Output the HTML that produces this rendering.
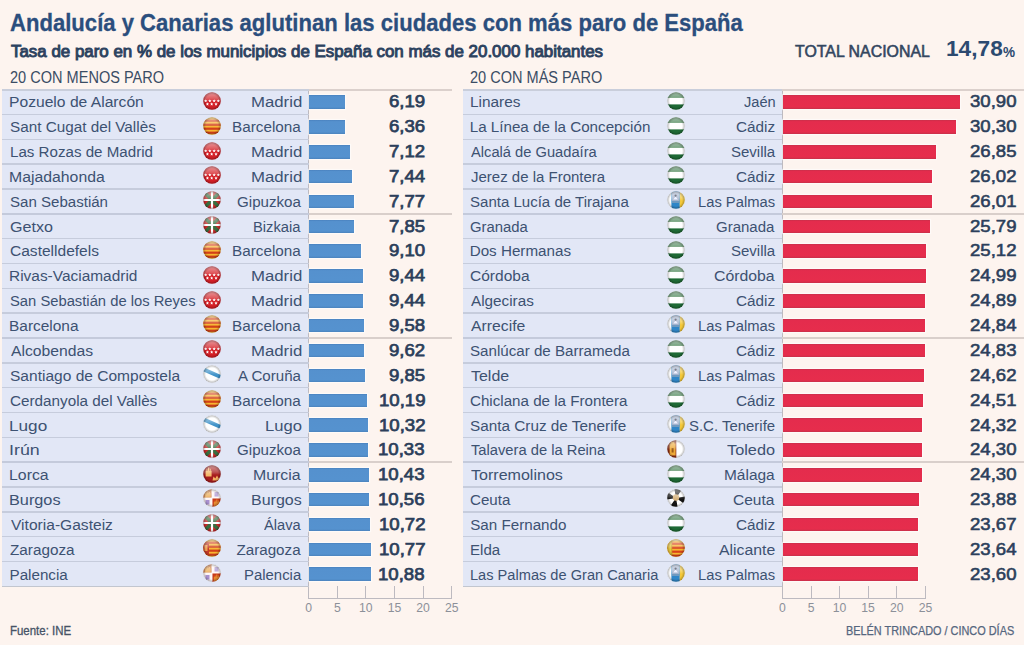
<!DOCTYPE html><html><head><meta charset="utf-8"><style>
*{margin:0;padding:0;box-sizing:border-box}
html,body{width:1024px;height:645px;overflow:hidden;background:#fdf4ef}
body{position:relative;font-family:"Liberation Sans",sans-serif;}
.a{position:absolute;white-space:nowrap;line-height:1}
.ln{position:absolute;height:1px}
</style></head><body>

<div class="a" style="left:10.22px;top:10.60px;font-size:24px;font-weight:bold;color:#2b4e7d;transform:scaleX(0.9204);transform-origin:0 0;-webkit-text-stroke:0.3px #2b4e7d;">Andalucía y Canarias aglutinan las ciudades con más paro de España</div>
<div class="a" style="left:11.35px;top:44.30px;font-size:15.8px;color:#2c425f;transform:scaleX(1.0700);transform-origin:0 0;-webkit-text-stroke:0.9px #2c425f;">Tasa de paro en % de los municipios de España con más de 20.000 habitantes</div>
<div class="a" style="left:795.29px;top:44.00px;font-size:15.6px;color:#33465f;transform:scaleX(1.0196);transform-origin:0 0;-webkit-text-stroke:0.55px #33465f;">TOTAL NACIONAL</div>
<div class="a" style="left:946.24px;top:37.60px;font-size:22.2px;font-weight:bold;color:#2c4a70;transform:scaleX(1.0219);transform-origin:0 0;">14,78</div>
<div class="a" style="left:1003.38px;top:45.60px;font-size:13.8px;font-weight:bold;color:#2c4a70;transform:scaleX(0.9826);transform-origin:0 0;">%</div>
<div class="a" style="left:10.08px;top:70.00px;font-size:15.6px;color:#3a4c64;transform:scaleX(0.9326);transform-origin:0 0;">20 CON MENOS PARO</div>
<div class="a" style="left:470.28px;top:70.00px;font-size:15.6px;color:#3a4c64;transform:scaleX(0.9324);transform-origin:0 0;">20 CON MÁS PARO</div>
<div class="a" style="left:2px;top:89.6px;width:306.60px;height:496.80px;background:#e2e7f6"></div>
<div class="a" style="left:308.20px;top:89.6px;width:1px;height:508.90px;background:#bdbac0"></div>
<div class="a" style="left:309.10px;top:95.42px;width:35.41px;height:13.5px;background:linear-gradient(#4a82bf,#5591ce 12%,#5592cf 85%,#4b83bd);box-shadow:0 0 1px 1px rgba(255,255,255,0.55)"></div>
<div class="a" style="left:9.46px;top:94.00px;font-size:15.2px;color:#3d5272;transform:scaleX(1.0300);transform-origin:0 0;">Pozuelo de Alarcón</div>
<div class="a" style="left:250.56px;top:94.00px;font-size:15.2px;color:#3d5272;transform:scaleX(1.1042);transform-origin:0 0;">Madrid</div>
<div class="a" style="left:388.91px;top:93.00px;font-size:17.2px;color:#2c3f5b;transform:scaleX(1.0800);transform-origin:0 0;-webkit-text-stroke:0.75px #2c3f5b;">6,19</div>
<svg class="a" style="left:202.20px;top:90.92px" width="20.00" height="20.00" viewBox="0 0 20 20"><g clip-path="url(#c)"><rect width='20' height='20' fill='#d41f26'/><polygon fill='#fff' points='3.60,8.15 4.06,9.26 5.26,9.36 4.35,10.14 4.63,11.32 3.60,10.69 2.57,11.32 2.85,10.14 1.94,9.36 3.14,9.26'/><polygon fill='#fff' points='7.85,8.15 8.31,9.26 9.51,9.36 8.60,10.14 8.88,11.32 7.85,10.69 6.82,11.32 7.10,10.14 6.19,9.36 7.39,9.26'/><polygon fill='#fff' points='12.15,8.15 12.61,9.26 13.81,9.36 12.90,10.14 13.18,11.32 12.15,10.69 11.12,11.32 11.40,10.14 10.49,9.36 11.69,9.26'/><polygon fill='#fff' points='16.40,8.15 16.86,9.26 18.06,9.36 17.15,10.14 17.43,11.32 16.40,10.69 15.37,11.32 15.65,10.14 14.74,9.36 15.94,9.26'/><polygon fill='#fff' points='5.40,11.35 5.86,12.46 7.06,12.56 6.15,13.34 6.43,14.52 5.40,13.89 4.37,14.52 4.65,13.34 3.74,12.56 4.94,12.46'/><polygon fill='#fff' points='9.70,11.35 10.16,12.46 11.36,12.56 10.45,13.34 10.73,14.52 9.70,13.89 8.67,14.52 8.95,13.34 8.04,12.56 9.24,12.46'/><polygon fill='#fff' points='14.00,11.35 14.46,12.46 15.66,12.56 14.75,13.34 15.03,14.52 14.00,13.89 12.97,14.52 13.25,13.34 12.34,12.56 13.54,12.46'/><rect width="20" height="20" fill="url(#h)"/><circle cx="10" cy="10" r="8.75" fill="url(#g)"/></g><circle cx="10" cy="10" r="8.75" fill="none" stroke="#000" stroke-opacity="0.12" stroke-width="0.5"/></svg>
<div class="ln" style="left:2px;top:113.69px;width:306.60px;height:1.5px;background:#c6ccdc"></div>
<div class="a" style="left:309.10px;top:120.26px;width:36.38px;height:13.5px;background:linear-gradient(#4a82bf,#5591ce 12%,#5592cf 85%,#4b83bd);box-shadow:0 0 1px 1px rgba(255,255,255,0.55)"></div>
<div class="a" style="left:10.00px;top:119.00px;font-size:15.2px;color:#3d5272;transform:scaleX(1.0059);transform-origin:0 0;">Sant Cugat del Vallès</div>
<div class="a" style="left:231.89px;top:119.00px;font-size:15.2px;color:#3d5272;transform:scaleX(1.0063);transform-origin:0 0;">Barcelona</div>
<div class="a" style="left:388.78px;top:118.00px;font-size:17.2px;color:#2c3f5b;transform:scaleX(1.0800);transform-origin:0 0;-webkit-text-stroke:0.75px #2c3f5b;">6,36</div>
<svg class="a" style="left:202.20px;top:115.76px" width="20.00" height="20.00" viewBox="0 0 20 20"><g clip-path="url(#c)"><rect width='20' height='20' fill='#f7b531'/><rect x='0' y='3.60' width='20' height='2.2' fill='#d2401a'/><rect x='0' y='7.60' width='20' height='2.2' fill='#d2401a'/><rect x='0' y='11.60' width='20' height='2.2' fill='#d2401a'/><rect x='0' y='15.60' width='20' height='2.2' fill='#d2401a'/><rect width="20" height="20" fill="url(#h)"/><circle cx="10" cy="10" r="8.75" fill="url(#g)"/></g><circle cx="10" cy="10" r="8.75" fill="none" stroke="#000" stroke-opacity="0.12" stroke-width="0.5"/></svg>
<div class="ln" style="left:2px;top:138.53px;width:306.60px;height:1.5px;background:#c6ccdc"></div>
<div class="a" style="left:309.10px;top:145.10px;width:40.73px;height:13.5px;background:linear-gradient(#4a82bf,#5591ce 12%,#5592cf 85%,#4b83bd);box-shadow:0 0 1px 1px rgba(255,255,255,0.55)"></div>
<div class="a" style="left:9.51px;top:144.00px;font-size:15.2px;color:#3d5272;transform:scaleX(0.9961);transform-origin:0 0;">Las Rozas de Madrid</div>
<div class="a" style="left:250.56px;top:144.00px;font-size:15.2px;color:#3d5272;transform:scaleX(1.1042);transform-origin:0 0;">Madrid</div>
<div class="a" style="left:388.91px;top:143.00px;font-size:17.2px;color:#2c3f5b;transform:scaleX(1.0800);transform-origin:0 0;-webkit-text-stroke:0.75px #2c3f5b;">7,12</div>
<svg class="a" style="left:202.20px;top:140.60px" width="20.00" height="20.00" viewBox="0 0 20 20"><g clip-path="url(#c)"><rect width='20' height='20' fill='#d41f26'/><polygon fill='#fff' points='3.60,8.15 4.06,9.26 5.26,9.36 4.35,10.14 4.63,11.32 3.60,10.69 2.57,11.32 2.85,10.14 1.94,9.36 3.14,9.26'/><polygon fill='#fff' points='7.85,8.15 8.31,9.26 9.51,9.36 8.60,10.14 8.88,11.32 7.85,10.69 6.82,11.32 7.10,10.14 6.19,9.36 7.39,9.26'/><polygon fill='#fff' points='12.15,8.15 12.61,9.26 13.81,9.36 12.90,10.14 13.18,11.32 12.15,10.69 11.12,11.32 11.40,10.14 10.49,9.36 11.69,9.26'/><polygon fill='#fff' points='16.40,8.15 16.86,9.26 18.06,9.36 17.15,10.14 17.43,11.32 16.40,10.69 15.37,11.32 15.65,10.14 14.74,9.36 15.94,9.26'/><polygon fill='#fff' points='5.40,11.35 5.86,12.46 7.06,12.56 6.15,13.34 6.43,14.52 5.40,13.89 4.37,14.52 4.65,13.34 3.74,12.56 4.94,12.46'/><polygon fill='#fff' points='9.70,11.35 10.16,12.46 11.36,12.56 10.45,13.34 10.73,14.52 9.70,13.89 8.67,14.52 8.95,13.34 8.04,12.56 9.24,12.46'/><polygon fill='#fff' points='14.00,11.35 14.46,12.46 15.66,12.56 14.75,13.34 15.03,14.52 14.00,13.89 12.97,14.52 13.25,13.34 12.34,12.56 13.54,12.46'/><rect width="20" height="20" fill="url(#h)"/><circle cx="10" cy="10" r="8.75" fill="url(#g)"/></g><circle cx="10" cy="10" r="8.75" fill="none" stroke="#000" stroke-opacity="0.12" stroke-width="0.5"/></svg>
<div class="ln" style="left:2px;top:163.37px;width:306.60px;height:1.5px;background:#c6ccdc"></div>
<div class="a" style="left:309.10px;top:169.94px;width:42.56px;height:13.5px;background:linear-gradient(#4a82bf,#5591ce 12%,#5592cf 85%,#4b83bd);box-shadow:0 0 1px 1px rgba(255,255,255,0.55)"></div>
<div class="a" style="left:9.45px;top:169.00px;font-size:15.2px;color:#3d5272;transform:scaleX(1.0403);transform-origin:0 0;">Majadahonda</div>
<div class="a" style="left:250.56px;top:169.00px;font-size:15.2px;color:#3d5272;transform:scaleX(1.1042);transform-origin:0 0;">Madrid</div>
<div class="a" style="left:388.51px;top:168.00px;font-size:17.2px;color:#2c3f5b;transform:scaleX(1.0800);transform-origin:0 0;-webkit-text-stroke:0.75px #2c3f5b;">7,44</div>
<svg class="a" style="left:202.20px;top:165.44px" width="20.00" height="20.00" viewBox="0 0 20 20"><g clip-path="url(#c)"><rect width='20' height='20' fill='#d41f26'/><polygon fill='#fff' points='3.60,8.15 4.06,9.26 5.26,9.36 4.35,10.14 4.63,11.32 3.60,10.69 2.57,11.32 2.85,10.14 1.94,9.36 3.14,9.26'/><polygon fill='#fff' points='7.85,8.15 8.31,9.26 9.51,9.36 8.60,10.14 8.88,11.32 7.85,10.69 6.82,11.32 7.10,10.14 6.19,9.36 7.39,9.26'/><polygon fill='#fff' points='12.15,8.15 12.61,9.26 13.81,9.36 12.90,10.14 13.18,11.32 12.15,10.69 11.12,11.32 11.40,10.14 10.49,9.36 11.69,9.26'/><polygon fill='#fff' points='16.40,8.15 16.86,9.26 18.06,9.36 17.15,10.14 17.43,11.32 16.40,10.69 15.37,11.32 15.65,10.14 14.74,9.36 15.94,9.26'/><polygon fill='#fff' points='5.40,11.35 5.86,12.46 7.06,12.56 6.15,13.34 6.43,14.52 5.40,13.89 4.37,14.52 4.65,13.34 3.74,12.56 4.94,12.46'/><polygon fill='#fff' points='9.70,11.35 10.16,12.46 11.36,12.56 10.45,13.34 10.73,14.52 9.70,13.89 8.67,14.52 8.95,13.34 8.04,12.56 9.24,12.46'/><polygon fill='#fff' points='14.00,11.35 14.46,12.46 15.66,12.56 14.75,13.34 15.03,14.52 14.00,13.89 12.97,14.52 13.25,13.34 12.34,12.56 13.54,12.46'/><rect width="20" height="20" fill="url(#h)"/><circle cx="10" cy="10" r="8.75" fill="url(#g)"/></g><circle cx="10" cy="10" r="8.75" fill="none" stroke="#000" stroke-opacity="0.12" stroke-width="0.5"/></svg>
<div class="ln" style="left:2px;top:188.21px;width:306.60px;height:1.5px;background:#c6ccdc"></div>
<div class="a" style="left:309.10px;top:194.78px;width:44.44px;height:13.5px;background:linear-gradient(#4a82bf,#5591ce 12%,#5592cf 85%,#4b83bd);box-shadow:0 0 1px 1px rgba(255,255,255,0.55)"></div>
<div class="a" style="left:10.01px;top:194.00px;font-size:15.2px;color:#3d5272;transform:scaleX(0.9920);transform-origin:0 0;">San Sebastián</div>
<div class="a" style="left:236.80px;top:194.00px;font-size:15.2px;color:#3d5272;transform:scaleX(0.9965);transform-origin:0 0;">Gipuzkoa</div>
<div class="a" style="left:388.91px;top:193.00px;font-size:17.2px;color:#2c3f5b;transform:scaleX(1.0800);transform-origin:0 0;-webkit-text-stroke:0.75px #2c3f5b;">7,77</div>
<svg class="a" style="left:202.20px;top:190.28px" width="20.00" height="20.00" viewBox="0 0 20 20"><g clip-path="url(#c)"><rect width='20' height='20' fill='#c62a2a'/><path d='M0 0L20 20M20 0L0 20' stroke='#3a6e40' stroke-width='3.6'/><path d='M10 0V20M0 10H20' stroke='#fff' stroke-width='2.2'/><rect width="20" height="20" fill="url(#h)"/><circle cx="10" cy="10" r="8.75" fill="url(#g)"/></g><circle cx="10" cy="10" r="8.75" fill="none" stroke="#000" stroke-opacity="0.12" stroke-width="0.5"/></svg>
<div class="ln" style="left:2px;top:213.05px;width:449.50px;height:1.5px;background:#d9cfcb"></div>
<div class="ln" style="left:2px;top:213.05px;width:306.60px;height:1.5px;background:#c4cadb"></div>
<div class="a" style="left:309.10px;top:219.62px;width:44.90px;height:13.5px;background:linear-gradient(#4a82bf,#5591ce 12%,#5592cf 85%,#4b83bd);box-shadow:0 0 1px 1px rgba(255,255,255,0.55)"></div>
<div class="a" style="left:9.95px;top:219.00px;font-size:15.2px;color:#3d5272;transform:scaleX(1.0599);transform-origin:0 0;">Getxo</div>
<div class="a" style="left:253.24px;top:219.00px;font-size:15.2px;color:#3d5272;transform:scaleX(0.9713);transform-origin:0 0;">Bizkaia</div>
<div class="a" style="left:388.78px;top:218.00px;font-size:17.2px;color:#2c3f5b;transform:scaleX(1.0800);transform-origin:0 0;-webkit-text-stroke:0.75px #2c3f5b;">7,85</div>
<svg class="a" style="left:202.20px;top:215.12px" width="20.00" height="20.00" viewBox="0 0 20 20"><g clip-path="url(#c)"><rect width='20' height='20' fill='#c62a2a'/><path d='M0 0L20 20M20 0L0 20' stroke='#3a6e40' stroke-width='3.6'/><path d='M10 0V20M0 10H20' stroke='#fff' stroke-width='2.2'/><rect width="20" height="20" fill="url(#h)"/><circle cx="10" cy="10" r="8.75" fill="url(#g)"/></g><circle cx="10" cy="10" r="8.75" fill="none" stroke="#000" stroke-opacity="0.12" stroke-width="0.5"/></svg>
<div class="ln" style="left:2px;top:237.89px;width:306.60px;height:1.5px;background:#c6ccdc"></div>
<div class="a" style="left:309.10px;top:244.46px;width:52.05px;height:13.5px;background:linear-gradient(#4a82bf,#5591ce 12%,#5592cf 85%,#4b83bd);box-shadow:0 0 1px 1px rgba(255,255,255,0.55)"></div>
<div class="a" style="left:9.98px;top:243.00px;font-size:15.2px;color:#3d5272;transform:scaleX(1.0233);transform-origin:0 0;">Castelldefels</div>
<div class="a" style="left:231.89px;top:243.00px;font-size:15.2px;color:#3d5272;transform:scaleX(1.0063);transform-origin:0 0;">Barcelona</div>
<div class="a" style="left:388.78px;top:242.00px;font-size:17.2px;color:#2c3f5b;transform:scaleX(1.0800);transform-origin:0 0;-webkit-text-stroke:0.75px #2c3f5b;">9,10</div>
<svg class="a" style="left:202.20px;top:239.96px" width="20.00" height="20.00" viewBox="0 0 20 20"><g clip-path="url(#c)"><rect width='20' height='20' fill='#f7b531'/><rect x='0' y='3.60' width='20' height='2.2' fill='#d2401a'/><rect x='0' y='7.60' width='20' height='2.2' fill='#d2401a'/><rect x='0' y='11.60' width='20' height='2.2' fill='#d2401a'/><rect x='0' y='15.60' width='20' height='2.2' fill='#d2401a'/><rect width="20" height="20" fill="url(#h)"/><circle cx="10" cy="10" r="8.75" fill="url(#g)"/></g><circle cx="10" cy="10" r="8.75" fill="none" stroke="#000" stroke-opacity="0.12" stroke-width="0.5"/></svg>
<div class="ln" style="left:2px;top:262.73px;width:306.60px;height:1.5px;background:#c6ccdc"></div>
<div class="a" style="left:309.10px;top:269.30px;width:54.00px;height:13.5px;background:linear-gradient(#4a82bf,#5591ce 12%,#5592cf 85%,#4b83bd);box-shadow:0 0 1px 1px rgba(255,255,255,0.55)"></div>
<div class="a" style="left:9.48px;top:268.00px;font-size:15.2px;color:#3d5272;transform:scaleX(1.0169);transform-origin:0 0;">Rivas-Vaciamadrid</div>
<div class="a" style="left:250.56px;top:268.00px;font-size:15.2px;color:#3d5272;transform:scaleX(1.1042);transform-origin:0 0;">Madrid</div>
<div class="a" style="left:388.51px;top:267.00px;font-size:17.2px;color:#2c3f5b;transform:scaleX(1.0800);transform-origin:0 0;-webkit-text-stroke:0.75px #2c3f5b;">9,44</div>
<svg class="a" style="left:202.20px;top:264.80px" width="20.00" height="20.00" viewBox="0 0 20 20"><g clip-path="url(#c)"><rect width='20' height='20' fill='#d41f26'/><polygon fill='#fff' points='3.60,8.15 4.06,9.26 5.26,9.36 4.35,10.14 4.63,11.32 3.60,10.69 2.57,11.32 2.85,10.14 1.94,9.36 3.14,9.26'/><polygon fill='#fff' points='7.85,8.15 8.31,9.26 9.51,9.36 8.60,10.14 8.88,11.32 7.85,10.69 6.82,11.32 7.10,10.14 6.19,9.36 7.39,9.26'/><polygon fill='#fff' points='12.15,8.15 12.61,9.26 13.81,9.36 12.90,10.14 13.18,11.32 12.15,10.69 11.12,11.32 11.40,10.14 10.49,9.36 11.69,9.26'/><polygon fill='#fff' points='16.40,8.15 16.86,9.26 18.06,9.36 17.15,10.14 17.43,11.32 16.40,10.69 15.37,11.32 15.65,10.14 14.74,9.36 15.94,9.26'/><polygon fill='#fff' points='5.40,11.35 5.86,12.46 7.06,12.56 6.15,13.34 6.43,14.52 5.40,13.89 4.37,14.52 4.65,13.34 3.74,12.56 4.94,12.46'/><polygon fill='#fff' points='9.70,11.35 10.16,12.46 11.36,12.56 10.45,13.34 10.73,14.52 9.70,13.89 8.67,14.52 8.95,13.34 8.04,12.56 9.24,12.46'/><polygon fill='#fff' points='14.00,11.35 14.46,12.46 15.66,12.56 14.75,13.34 15.03,14.52 14.00,13.89 12.97,14.52 13.25,13.34 12.34,12.56 13.54,12.46'/><rect width="20" height="20" fill="url(#h)"/><circle cx="10" cy="10" r="8.75" fill="url(#g)"/></g><circle cx="10" cy="10" r="8.75" fill="none" stroke="#000" stroke-opacity="0.12" stroke-width="0.5"/></svg>
<div class="ln" style="left:2px;top:287.57px;width:306.60px;height:1.5px;background:#c6ccdc"></div>
<div class="a" style="left:309.10px;top:294.14px;width:54.00px;height:13.5px;background:linear-gradient(#4a82bf,#5591ce 12%,#5592cf 85%,#4b83bd);box-shadow:0 0 1px 1px rgba(255,255,255,0.55)"></div>
<div class="a" style="left:10.02px;top:293.00px;font-size:15.2px;color:#3d5272;transform:scaleX(0.9724);transform-origin:0 0;">San Sebastián de los Reyes</div>
<div class="a" style="left:250.56px;top:293.00px;font-size:15.2px;color:#3d5272;transform:scaleX(1.1042);transform-origin:0 0;">Madrid</div>
<div class="a" style="left:388.51px;top:292.00px;font-size:17.2px;color:#2c3f5b;transform:scaleX(1.0800);transform-origin:0 0;-webkit-text-stroke:0.75px #2c3f5b;">9,44</div>
<svg class="a" style="left:202.20px;top:289.64px" width="20.00" height="20.00" viewBox="0 0 20 20"><g clip-path="url(#c)"><rect width='20' height='20' fill='#d41f26'/><polygon fill='#fff' points='3.60,8.15 4.06,9.26 5.26,9.36 4.35,10.14 4.63,11.32 3.60,10.69 2.57,11.32 2.85,10.14 1.94,9.36 3.14,9.26'/><polygon fill='#fff' points='7.85,8.15 8.31,9.26 9.51,9.36 8.60,10.14 8.88,11.32 7.85,10.69 6.82,11.32 7.10,10.14 6.19,9.36 7.39,9.26'/><polygon fill='#fff' points='12.15,8.15 12.61,9.26 13.81,9.36 12.90,10.14 13.18,11.32 12.15,10.69 11.12,11.32 11.40,10.14 10.49,9.36 11.69,9.26'/><polygon fill='#fff' points='16.40,8.15 16.86,9.26 18.06,9.36 17.15,10.14 17.43,11.32 16.40,10.69 15.37,11.32 15.65,10.14 14.74,9.36 15.94,9.26'/><polygon fill='#fff' points='5.40,11.35 5.86,12.46 7.06,12.56 6.15,13.34 6.43,14.52 5.40,13.89 4.37,14.52 4.65,13.34 3.74,12.56 4.94,12.46'/><polygon fill='#fff' points='9.70,11.35 10.16,12.46 11.36,12.56 10.45,13.34 10.73,14.52 9.70,13.89 8.67,14.52 8.95,13.34 8.04,12.56 9.24,12.46'/><polygon fill='#fff' points='14.00,11.35 14.46,12.46 15.66,12.56 14.75,13.34 15.03,14.52 14.00,13.89 12.97,14.52 13.25,13.34 12.34,12.56 13.54,12.46'/><rect width="20" height="20" fill="url(#h)"/><circle cx="10" cy="10" r="8.75" fill="url(#g)"/></g><circle cx="10" cy="10" r="8.75" fill="none" stroke="#000" stroke-opacity="0.12" stroke-width="0.5"/></svg>
<div class="ln" style="left:2px;top:312.41px;width:306.60px;height:1.5px;background:#c6ccdc"></div>
<div class="a" style="left:309.10px;top:318.98px;width:54.80px;height:13.5px;background:linear-gradient(#4a82bf,#5591ce 12%,#5592cf 85%,#4b83bd);box-shadow:0 0 1px 1px rgba(255,255,255,0.55)"></div>
<div class="a" style="left:9.48px;top:318.00px;font-size:15.2px;color:#3d5272;transform:scaleX(1.0167);transform-origin:0 0;">Barcelona</div>
<div class="a" style="left:231.89px;top:318.00px;font-size:15.2px;color:#3d5272;transform:scaleX(1.0063);transform-origin:0 0;">Barcelona</div>
<div class="a" style="left:388.78px;top:317.00px;font-size:17.2px;color:#2c3f5b;transform:scaleX(1.0800);transform-origin:0 0;-webkit-text-stroke:0.75px #2c3f5b;">9,58</div>
<svg class="a" style="left:202.20px;top:314.48px" width="20.00" height="20.00" viewBox="0 0 20 20"><g clip-path="url(#c)"><rect width='20' height='20' fill='#f7b531'/><rect x='0' y='3.60' width='20' height='2.2' fill='#d2401a'/><rect x='0' y='7.60' width='20' height='2.2' fill='#d2401a'/><rect x='0' y='11.60' width='20' height='2.2' fill='#d2401a'/><rect x='0' y='15.60' width='20' height='2.2' fill='#d2401a'/><rect width="20" height="20" fill="url(#h)"/><circle cx="10" cy="10" r="8.75" fill="url(#g)"/></g><circle cx="10" cy="10" r="8.75" fill="none" stroke="#000" stroke-opacity="0.12" stroke-width="0.5"/></svg>
<div class="ln" style="left:2px;top:337.25px;width:449.50px;height:1.5px;background:#d9cfcb"></div>
<div class="ln" style="left:2px;top:337.25px;width:306.60px;height:1.5px;background:#c4cadb"></div>
<div class="a" style="left:309.10px;top:343.82px;width:55.03px;height:13.5px;background:linear-gradient(#4a82bf,#5591ce 12%,#5592cf 85%,#4b83bd);box-shadow:0 0 1px 1px rgba(255,255,255,0.55)"></div>
<div class="a" style="left:10.75px;top:343.00px;font-size:15.2px;color:#3d5272;transform:scaleX(1.0351);transform-origin:0 0;">Alcobendas</div>
<div class="a" style="left:250.56px;top:343.00px;font-size:15.2px;color:#3d5272;transform:scaleX(1.1042);transform-origin:0 0;">Madrid</div>
<div class="a" style="left:388.91px;top:342.00px;font-size:17.2px;color:#2c3f5b;transform:scaleX(1.0800);transform-origin:0 0;-webkit-text-stroke:0.75px #2c3f5b;">9,62</div>
<svg class="a" style="left:202.20px;top:339.32px" width="20.00" height="20.00" viewBox="0 0 20 20"><g clip-path="url(#c)"><rect width='20' height='20' fill='#d41f26'/><polygon fill='#fff' points='3.60,8.15 4.06,9.26 5.26,9.36 4.35,10.14 4.63,11.32 3.60,10.69 2.57,11.32 2.85,10.14 1.94,9.36 3.14,9.26'/><polygon fill='#fff' points='7.85,8.15 8.31,9.26 9.51,9.36 8.60,10.14 8.88,11.32 7.85,10.69 6.82,11.32 7.10,10.14 6.19,9.36 7.39,9.26'/><polygon fill='#fff' points='12.15,8.15 12.61,9.26 13.81,9.36 12.90,10.14 13.18,11.32 12.15,10.69 11.12,11.32 11.40,10.14 10.49,9.36 11.69,9.26'/><polygon fill='#fff' points='16.40,8.15 16.86,9.26 18.06,9.36 17.15,10.14 17.43,11.32 16.40,10.69 15.37,11.32 15.65,10.14 14.74,9.36 15.94,9.26'/><polygon fill='#fff' points='5.40,11.35 5.86,12.46 7.06,12.56 6.15,13.34 6.43,14.52 5.40,13.89 4.37,14.52 4.65,13.34 3.74,12.56 4.94,12.46'/><polygon fill='#fff' points='9.70,11.35 10.16,12.46 11.36,12.56 10.45,13.34 10.73,14.52 9.70,13.89 8.67,14.52 8.95,13.34 8.04,12.56 9.24,12.46'/><polygon fill='#fff' points='14.00,11.35 14.46,12.46 15.66,12.56 14.75,13.34 15.03,14.52 14.00,13.89 12.97,14.52 13.25,13.34 12.34,12.56 13.54,12.46'/><rect width="20" height="20" fill="url(#h)"/><circle cx="10" cy="10" r="8.75" fill="url(#g)"/></g><circle cx="10" cy="10" r="8.75" fill="none" stroke="#000" stroke-opacity="0.12" stroke-width="0.5"/></svg>
<div class="ln" style="left:2px;top:362.09px;width:306.60px;height:1.5px;background:#c6ccdc"></div>
<div class="a" style="left:309.10px;top:368.66px;width:56.34px;height:13.5px;background:linear-gradient(#4a82bf,#5591ce 12%,#5592cf 85%,#4b83bd);box-shadow:0 0 1px 1px rgba(255,255,255,0.55)"></div>
<div class="a" style="left:9.98px;top:368.00px;font-size:15.2px;color:#3d5272;transform:scaleX(1.0226);transform-origin:0 0;">Santiago de Compostela</div>
<div class="a" style="left:237.75px;top:368.00px;font-size:15.2px;color:#3d5272;transform:scaleX(0.9953);transform-origin:0 0;">A Coruña</div>
<div class="a" style="left:388.78px;top:367.00px;font-size:17.2px;color:#2c3f5b;transform:scaleX(1.0800);transform-origin:0 0;-webkit-text-stroke:0.75px #2c3f5b;">9,85</div>
<svg class="a" style="left:202.20px;top:364.16px" width="20.00" height="20.00" viewBox="0 0 20 20"><g clip-path="url(#c)"><rect width='20' height='20' fill='#fff'/><path d='M-1 4.2L21 14' stroke='#3f92c8' stroke-width='3.8'/><rect width="20" height="20" fill="url(#h)"/><circle cx="10" cy="10" r="8.75" fill="url(#g)"/></g><circle cx="10" cy="10" r="8.75" fill="none" stroke="#000" stroke-opacity="0.12" stroke-width="0.5"/></svg>
<div class="ln" style="left:2px;top:386.93px;width:306.60px;height:1.5px;background:#c6ccdc"></div>
<div class="a" style="left:309.10px;top:393.50px;width:58.29px;height:13.5px;background:linear-gradient(#4a82bf,#5591ce 12%,#5592cf 85%,#4b83bd);box-shadow:0 0 1px 1px rgba(255,255,255,0.55)"></div>
<div class="a" style="left:10.00px;top:393.00px;font-size:15.2px;color:#3d5272;transform:scaleX(1.0043);transform-origin:0 0;">Cerdanyola del Vallès</div>
<div class="a" style="left:231.89px;top:393.00px;font-size:15.2px;color:#3d5272;transform:scaleX(1.0063);transform-origin:0 0;">Barcelona</div>
<div class="a" style="left:378.52px;top:392.00px;font-size:17.2px;color:#2c3f5b;transform:scaleX(1.0800);transform-origin:0 0;-webkit-text-stroke:0.75px #2c3f5b;">10,19</div>
<svg class="a" style="left:202.20px;top:389.00px" width="20.00" height="20.00" viewBox="0 0 20 20"><g clip-path="url(#c)"><rect width='20' height='20' fill='#f7b531'/><rect x='0' y='3.60' width='20' height='2.2' fill='#d2401a'/><rect x='0' y='7.60' width='20' height='2.2' fill='#d2401a'/><rect x='0' y='11.60' width='20' height='2.2' fill='#d2401a'/><rect x='0' y='15.60' width='20' height='2.2' fill='#d2401a'/><rect width="20" height="20" fill="url(#h)"/><circle cx="10" cy="10" r="8.75" fill="url(#g)"/></g><circle cx="10" cy="10" r="8.75" fill="none" stroke="#000" stroke-opacity="0.12" stroke-width="0.5"/></svg>
<div class="ln" style="left:2px;top:411.77px;width:306.60px;height:1.5px;background:#c6ccdc"></div>
<div class="a" style="left:309.10px;top:418.34px;width:59.03px;height:13.5px;background:linear-gradient(#4a82bf,#5591ce 12%,#5592cf 85%,#4b83bd);box-shadow:0 0 1px 1px rgba(255,255,255,0.55)"></div>
<div class="a" style="left:9.33px;top:418.00px;font-size:15.2px;color:#3d5272;transform:scaleX(1.1313);transform-origin:0 0;">Lugo</div>
<div class="a" style="left:264.58px;top:418.00px;font-size:15.2px;color:#3d5272;transform:scaleX(1.0938);transform-origin:0 0;">Lugo</div>
<div class="a" style="left:378.52px;top:417.00px;font-size:17.2px;color:#2c3f5b;transform:scaleX(1.0800);transform-origin:0 0;-webkit-text-stroke:0.75px #2c3f5b;">10,32</div>
<svg class="a" style="left:202.20px;top:413.84px" width="20.00" height="20.00" viewBox="0 0 20 20"><g clip-path="url(#c)"><rect width='20' height='20' fill='#fff'/><path d='M-1 4.2L21 14' stroke='#3f92c8' stroke-width='3.8'/><rect width="20" height="20" fill="url(#h)"/><circle cx="10" cy="10" r="8.75" fill="url(#g)"/></g><circle cx="10" cy="10" r="8.75" fill="none" stroke="#000" stroke-opacity="0.12" stroke-width="0.5"/></svg>
<div class="ln" style="left:2px;top:436.61px;width:306.60px;height:1.5px;background:#c6ccdc"></div>
<div class="a" style="left:309.10px;top:443.18px;width:59.09px;height:13.5px;background:linear-gradient(#4a82bf,#5591ce 12%,#5592cf 85%,#4b83bd);box-shadow:0 0 1px 1px rgba(255,255,255,0.55)"></div>
<div class="a" style="left:9.13px;top:442.00px;font-size:15.2px;color:#3d5272;transform:scaleX(1.1728);transform-origin:0 0;">Irún</div>
<div class="a" style="left:236.80px;top:442.00px;font-size:15.2px;color:#3d5272;transform:scaleX(0.9965);transform-origin:0 0;">Gipuzkoa</div>
<div class="a" style="left:378.38px;top:441.00px;font-size:17.2px;color:#2c3f5b;transform:scaleX(1.0800);transform-origin:0 0;-webkit-text-stroke:0.75px #2c3f5b;">10,33</div>
<svg class="a" style="left:202.20px;top:438.68px" width="20.00" height="20.00" viewBox="0 0 20 20"><g clip-path="url(#c)"><rect width='20' height='20' fill='#c62a2a'/><path d='M0 0L20 20M20 0L0 20' stroke='#3a6e40' stroke-width='3.6'/><path d='M10 0V20M0 10H20' stroke='#fff' stroke-width='2.2'/><rect width="20" height="20" fill="url(#h)"/><circle cx="10" cy="10" r="8.75" fill="url(#g)"/></g><circle cx="10" cy="10" r="8.75" fill="none" stroke="#000" stroke-opacity="0.12" stroke-width="0.5"/></svg>
<div class="ln" style="left:2px;top:461.45px;width:449.50px;height:1.5px;background:#d9cfcb"></div>
<div class="ln" style="left:2px;top:461.45px;width:306.60px;height:1.5px;background:#c4cadb"></div>
<div class="a" style="left:309.10px;top:468.02px;width:59.66px;height:13.5px;background:linear-gradient(#4a82bf,#5591ce 12%,#5592cf 85%,#4b83bd);box-shadow:0 0 1px 1px rgba(255,255,255,0.55)"></div>
<div class="a" style="left:9.44px;top:467.00px;font-size:15.2px;color:#3d5272;transform:scaleX(1.0441);transform-origin:0 0;">Lorca</div>
<div class="a" style="left:253.14px;top:467.00px;font-size:15.2px;color:#3d5272;transform:scaleX(1.0449);transform-origin:0 0;">Murcia</div>
<div class="a" style="left:378.38px;top:466.00px;font-size:17.2px;color:#2c3f5b;transform:scaleX(1.0800);transform-origin:0 0;-webkit-text-stroke:0.75px #2c3f5b;">10,43</div>
<svg class="a" style="left:202.20px;top:463.52px" width="20.00" height="20.00" viewBox="0 0 20 20"><g clip-path="url(#c)"><rect width='20' height='20' fill='#a81d1d'/><path fill='#f4b868' d='M3.6 12.5V6.65H4.5V4.85H5.4V6.65H6.0V3.5H7.199999999999999V6.65H7.799999999999999V4.85H8.7V6.65H9.6V12.5Z'/><path fill='#f4b060' d='M10.5 16.5L11.5 12.5L13.3 14.5L15 11.5L16.7 14.5L18.5 12.5L19.5 16.5Z'/><rect width="20" height="20" fill="url(#h)"/><circle cx="10" cy="10" r="8.75" fill="url(#g)"/></g><circle cx="10" cy="10" r="8.75" fill="none" stroke="#000" stroke-opacity="0.12" stroke-width="0.5"/></svg>
<div class="ln" style="left:2px;top:486.29px;width:306.60px;height:1.5px;background:#c6ccdc"></div>
<div class="a" style="left:309.10px;top:492.86px;width:60.40px;height:13.5px;background:linear-gradient(#4a82bf,#5591ce 12%,#5592cf 85%,#4b83bd);box-shadow:0 0 1px 1px rgba(255,255,255,0.55)"></div>
<div class="a" style="left:9.41px;top:492.00px;font-size:15.2px;color:#3d5272;transform:scaleX(1.0710);transform-origin:0 0;">Burgos</div>
<div class="a" style="left:250.63px;top:492.00px;font-size:15.2px;color:#3d5272;transform:scaleX(1.0538);transform-origin:0 0;">Burgos</div>
<div class="a" style="left:378.38px;top:491.00px;font-size:17.2px;color:#2c3f5b;transform:scaleX(1.0800);transform-origin:0 0;-webkit-text-stroke:0.75px #2c3f5b;">10,56</div>
<svg class="a" style="left:202.20px;top:488.36px" width="20.00" height="20.00" viewBox="0 0 20 20"><g clip-path="url(#c)"><rect width='20' height='20' fill='#fdf3f3'/><rect x='0' y='0' width='10' height='10' fill='#c9682e'/><rect x='10' y='10' width='10' height='10' fill='#c83a1a'/><path fill='#eaa850' d='M2.8 9.5V5.275H3.6999999999999997V3.975H4.6V5.275H5.2V3H6.3999999999999995V5.275H6.999999999999999V3.975H7.8999999999999995V5.275H8.8V9.5Z'/><path fill='#e88a30' d='M11.8 18.0V13.775H12.700000000000001V12.475H13.600000000000001V13.775H14.200000000000001V11.5H15.4V13.775H16.0V12.475H16.9V13.775H17.8V18.0Z'/><rect x='12.5' y='4' width='4' height='4.5' fill='#a890d0'/><rect x='3.5' y='12' width='4' height='4.5' fill='#a890d0'/><path d='M10 0V20M0 10H20' stroke='#fff' stroke-width='0.9'/><rect width="20" height="20" fill="url(#h)"/><circle cx="10" cy="10" r="8.75" fill="url(#g)"/></g><circle cx="10" cy="10" r="8.75" fill="none" stroke="#000" stroke-opacity="0.12" stroke-width="0.5"/></svg>
<div class="ln" style="left:2px;top:511.13px;width:306.60px;height:1.5px;background:#c6ccdc"></div>
<div class="a" style="left:309.10px;top:517.70px;width:61.32px;height:13.5px;background:linear-gradient(#4a82bf,#5591ce 12%,#5592cf 85%,#4b83bd);box-shadow:0 0 1px 1px rgba(255,255,255,0.55)"></div>
<div class="a" style="left:10.62px;top:517.00px;font-size:15.2px;color:#3d5272;transform:scaleX(1.0258);transform-origin:0 0;">Vitoria-Gasteiz</div>
<div class="a" style="left:264.15px;top:517.00px;font-size:15.2px;color:#3d5272;transform:scaleX(0.9652);transform-origin:0 0;">Álava</div>
<div class="a" style="left:378.52px;top:516.00px;font-size:17.2px;color:#2c3f5b;transform:scaleX(1.0800);transform-origin:0 0;-webkit-text-stroke:0.75px #2c3f5b;">10,72</div>
<svg class="a" style="left:202.20px;top:513.20px" width="20.00" height="20.00" viewBox="0 0 20 20"><g clip-path="url(#c)"><rect width='20' height='20' fill='#c62a2a'/><path d='M0 0L20 20M20 0L0 20' stroke='#3a6e40' stroke-width='3.6'/><path d='M10 0V20M0 10H20' stroke='#fff' stroke-width='2.2'/><rect width="20" height="20" fill="url(#h)"/><circle cx="10" cy="10" r="8.75" fill="url(#g)"/></g><circle cx="10" cy="10" r="8.75" fill="none" stroke="#000" stroke-opacity="0.12" stroke-width="0.5"/></svg>
<div class="ln" style="left:2px;top:535.97px;width:306.60px;height:1.5px;background:#c6ccdc"></div>
<div class="a" style="left:309.10px;top:542.54px;width:61.60px;height:13.5px;background:linear-gradient(#4a82bf,#5591ce 12%,#5592cf 85%,#4b83bd);box-shadow:0 0 1px 1px rgba(255,255,255,0.55)"></div>
<div class="a" style="left:10.25px;top:542.00px;font-size:15.2px;color:#3d5272;transform:scaleX(1.0067);transform-origin:0 0;">Zaragoza</div>
<div class="a" style="left:236.45px;top:542.00px;font-size:15.2px;color:#3d5272;">Zaragoza</div>
<div class="a" style="left:378.52px;top:541.00px;font-size:17.2px;color:#2c3f5b;transform:scaleX(1.0800);transform-origin:0 0;-webkit-text-stroke:0.75px #2c3f5b;">10,77</div>
<svg class="a" style="left:202.20px;top:538.04px" width="20.00" height="20.00" viewBox="0 0 20 20"><g clip-path="url(#c)"><rect width='20' height='20' fill='#f7b531'/><rect x='0' y='3.60' width='20' height='2.2' fill='#d2401a'/><rect x='0' y='7.60' width='20' height='2.2' fill='#d2401a'/><rect x='0' y='11.60' width='20' height='2.2' fill='#d2401a'/><rect x='0' y='15.60' width='20' height='2.2' fill='#d2401a'/><rect x='1' y='5' width='6' height='11' fill='#c23a2a'/><rect x='2.5' y='7' width='3' height='6' fill='#f0a050'/><rect width="20" height="20" fill="url(#h)"/><circle cx="10" cy="10" r="8.75" fill="url(#g)"/></g><circle cx="10" cy="10" r="8.75" fill="none" stroke="#000" stroke-opacity="0.12" stroke-width="0.5"/></svg>
<div class="ln" style="left:2px;top:560.81px;width:306.60px;height:1.5px;background:#c6ccdc"></div>
<div class="a" style="left:309.10px;top:567.38px;width:62.23px;height:13.5px;background:linear-gradient(#4a82bf,#5591ce 12%,#5592cf 85%,#4b83bd);box-shadow:0 0 1px 1px rgba(255,255,255,0.55)"></div>
<div class="a" style="left:9.50px;top:567.00px;font-size:15.2px;color:#3d5272;">Palencia</div>
<div class="a" style="left:243.52px;top:567.00px;font-size:15.2px;color:#3d5272;transform:scaleX(0.9817);transform-origin:0 0;">Palencia</div>
<div class="a" style="left:378.38px;top:566.00px;font-size:17.2px;color:#2c3f5b;transform:scaleX(1.0800);transform-origin:0 0;-webkit-text-stroke:0.75px #2c3f5b;">10,88</div>
<svg class="a" style="left:202.20px;top:562.88px" width="20.00" height="20.00" viewBox="0 0 20 20"><g clip-path="url(#c)"><rect width='20' height='20' fill='#fdf3f3'/><rect x='0' y='0' width='10' height='10' fill='#c9682e'/><rect x='10' y='10' width='10' height='10' fill='#c83a1a'/><path fill='#eaa850' d='M2.8 9.5V5.275H3.6999999999999997V3.975H4.6V5.275H5.2V3H6.3999999999999995V5.275H6.999999999999999V3.975H7.8999999999999995V5.275H8.8V9.5Z'/><path fill='#e88a30' d='M11.8 18.0V13.775H12.700000000000001V12.475H13.600000000000001V13.775H14.200000000000001V11.5H15.4V13.775H16.0V12.475H16.9V13.775H17.8V18.0Z'/><rect x='12.5' y='4' width='4' height='4.5' fill='#a890d0'/><rect x='3.5' y='12' width='4' height='4.5' fill='#a890d0'/><path d='M10 0V20M0 10H20' stroke='#fff' stroke-width='0.9'/><rect width="20" height="20" fill="url(#h)"/><circle cx="10" cy="10" r="8.75" fill="url(#g)"/></g><circle cx="10" cy="10" r="8.75" fill="none" stroke="#000" stroke-opacity="0.12" stroke-width="0.5"/></svg>
<div class="ln" style="left:2px;top:89.10px;width:449.50px;height:1.6px;background:#dbd0cc"></div>
<div class="ln" style="left:2px;top:89.10px;width:306.60px;height:1.6px;background:#c9cedb"></div>
<div class="ln" style="left:2px;top:585.90px;width:306.60px;background:#c2c6cf"></div>
<div class="ln" style="left:308.20px;top:598px;width:144.00px;background:#bdbac0"></div>
<div class="a" style="left:305.27px;top:601.60px;font-size:12.2px;color:#8c9099;">0</div>
<div class="a" style="left:336.80px;top:586px;width:1px;height:12px;background:#bdbac0"></div>
<div class="a" style="left:333.94px;top:601.60px;font-size:12.2px;color:#8c9099;">5</div>
<div class="a" style="left:365.40px;top:586px;width:1px;height:12px;background:#bdbac0"></div>
<div class="a" style="left:358.97px;top:601.60px;font-size:12.2px;color:#8c9099;">10</div>
<div class="a" style="left:394.00px;top:586px;width:1px;height:12px;background:#bdbac0"></div>
<div class="a" style="left:387.64px;top:601.60px;font-size:12.2px;color:#8c9099;">15</div>
<div class="a" style="left:422.60px;top:586px;width:1px;height:12px;background:#bdbac0"></div>
<div class="a" style="left:416.30px;top:601.60px;font-size:12.2px;color:#8c9099;">20</div>
<div class="a" style="left:451.20px;top:586px;width:1px;height:12px;background:#bdbac0"></div>
<div class="a" style="left:444.96px;top:601.60px;font-size:12.2px;color:#8c9099;">25</div>
<div class="a" style="left:462.8px;top:89.6px;width:319.40px;height:496.80px;background:#e2e7f6"></div>
<div class="a" style="left:781.90px;top:89.6px;width:1px;height:508.90px;background:#bdbac0"></div>
<div class="a" style="left:782.80px;top:95.42px;width:176.75px;height:13.5px;background:linear-gradient(#c9304a,#e42c4d 12%,#e62d4c 85%,#c8304a);box-shadow:0 0 1px 1px rgba(255,255,255,0.55)"></div>
<div class="a" style="left:469.68px;top:94.00px;font-size:15.2px;color:#3d5272;transform:scaleX(1.0135);transform-origin:0 0;">Linares</div>
<div class="a" style="left:744.01px;top:94.00px;font-size:15.2px;color:#3d5272;transform:scaleX(0.9638);transform-origin:0 0;">Jaén</div>
<div class="a" style="left:969.78px;top:93.00px;font-size:17.2px;color:#2c3f5b;transform:scaleX(1.0800);transform-origin:0 0;-webkit-text-stroke:0.6px #2c3f5b;">30,90</div>
<svg class="a" style="left:665.60px;top:90.92px" width="20.00" height="20.00" viewBox="0 0 20 20"><g clip-path="url(#c)"><rect width='20' height='20' fill='#fff'/><rect width='20' height='6.9' fill='#3a7a48'/><rect y='13.4' width='20' height='6.6' fill='#1e6a35'/><rect width="20" height="20" fill="url(#h)"/><circle cx="10" cy="10" r="8.75" fill="url(#g)"/></g><circle cx="10" cy="10" r="8.75" fill="none" stroke="#000" stroke-opacity="0.12" stroke-width="0.5"/></svg>
<div class="ln" style="left:462.8px;top:113.69px;width:319.40px;height:1.5px;background:#c6ccdc"></div>
<div class="a" style="left:782.80px;top:120.26px;width:173.32px;height:13.5px;background:linear-gradient(#c9304a,#e42c4d 12%,#e62d4c 85%,#c8304a);box-shadow:0 0 1px 1px rgba(255,255,255,0.55)"></div>
<div class="a" style="left:469.70px;top:119.00px;font-size:15.2px;color:#3d5272;">La Línea de la Concepción</div>
<div class="a" style="left:736.29px;top:119.00px;font-size:15.2px;color:#3d5272;transform:scaleX(1.0080);transform-origin:0 0;">Cádiz</div>
<div class="a" style="left:969.78px;top:118.00px;font-size:17.2px;color:#2c3f5b;transform:scaleX(1.0800);transform-origin:0 0;-webkit-text-stroke:0.6px #2c3f5b;">30,30</div>
<svg class="a" style="left:665.60px;top:115.76px" width="20.00" height="20.00" viewBox="0 0 20 20"><g clip-path="url(#c)"><rect width='20' height='20' fill='#fff'/><rect width='20' height='6.9' fill='#3a7a48'/><rect y='13.4' width='20' height='6.6' fill='#1e6a35'/><rect width="20" height="20" fill="url(#h)"/><circle cx="10" cy="10" r="8.75" fill="url(#g)"/></g><circle cx="10" cy="10" r="8.75" fill="none" stroke="#000" stroke-opacity="0.12" stroke-width="0.5"/></svg>
<div class="ln" style="left:462.8px;top:138.53px;width:319.40px;height:1.5px;background:#c6ccdc"></div>
<div class="a" style="left:782.80px;top:145.10px;width:153.58px;height:13.5px;background:linear-gradient(#c9304a,#e42c4d 12%,#e62d4c 85%,#c8304a);box-shadow:0 0 1px 1px rgba(255,255,255,0.55)"></div>
<div class="a" style="left:470.95px;top:144.00px;font-size:15.2px;color:#3d5272;transform:scaleX(0.9670);transform-origin:0 0;">Alcalá de Guadaíra</div>
<div class="a" style="left:730.51px;top:144.00px;font-size:15.2px;color:#3d5272;transform:scaleX(0.9881);transform-origin:0 0;">Sevilla</div>
<div class="a" style="left:969.78px;top:143.00px;font-size:17.2px;color:#2c3f5b;transform:scaleX(1.0800);transform-origin:0 0;-webkit-text-stroke:0.6px #2c3f5b;">26,85</div>
<svg class="a" style="left:665.60px;top:140.60px" width="20.00" height="20.00" viewBox="0 0 20 20"><g clip-path="url(#c)"><rect width='20' height='20' fill='#fff'/><rect width='20' height='6.9' fill='#3a7a48'/><rect y='13.4' width='20' height='6.6' fill='#1e6a35'/><rect width="20" height="20" fill="url(#h)"/><circle cx="10" cy="10" r="8.75" fill="url(#g)"/></g><circle cx="10" cy="10" r="8.75" fill="none" stroke="#000" stroke-opacity="0.12" stroke-width="0.5"/></svg>
<div class="ln" style="left:462.8px;top:163.37px;width:319.40px;height:1.5px;background:#c6ccdc"></div>
<div class="a" style="left:782.80px;top:169.94px;width:148.83px;height:13.5px;background:linear-gradient(#c9304a,#e42c4d 12%,#e62d4c 85%,#c8304a);box-shadow:0 0 1px 1px rgba(255,255,255,0.55)"></div>
<div class="a" style="left:470.70px;top:169.00px;font-size:15.2px;color:#3d5272;transform:scaleX(0.9873);transform-origin:0 0;">Jerez de la Frontera</div>
<div class="a" style="left:736.29px;top:169.00px;font-size:15.2px;color:#3d5272;transform:scaleX(1.0080);transform-origin:0 0;">Cádiz</div>
<div class="a" style="left:969.92px;top:168.00px;font-size:17.2px;color:#2c3f5b;transform:scaleX(1.0800);transform-origin:0 0;-webkit-text-stroke:0.6px #2c3f5b;">26,02</div>
<svg class="a" style="left:665.60px;top:165.44px" width="20.00" height="20.00" viewBox="0 0 20 20"><g clip-path="url(#c)"><rect width='20' height='20' fill='#fff'/><rect width='20' height='6.9' fill='#3a7a48'/><rect y='13.4' width='20' height='6.6' fill='#1e6a35'/><rect width="20" height="20" fill="url(#h)"/><circle cx="10" cy="10" r="8.75" fill="url(#g)"/></g><circle cx="10" cy="10" r="8.75" fill="none" stroke="#000" stroke-opacity="0.12" stroke-width="0.5"/></svg>
<div class="ln" style="left:462.8px;top:188.21px;width:319.40px;height:1.5px;background:#c6ccdc"></div>
<div class="a" style="left:782.80px;top:194.78px;width:148.78px;height:13.5px;background:linear-gradient(#c9304a,#e42c4d 12%,#e62d4c 85%,#c8304a);box-shadow:0 0 1px 1px rgba(255,255,255,0.55)"></div>
<div class="a" style="left:470.21px;top:194.00px;font-size:15.2px;color:#3d5272;transform:scaleX(0.9897);transform-origin:0 0;">Santa Lucía de Tirajana</div>
<div class="a" style="left:698.04px;top:194.00px;font-size:15.2px;color:#3d5272;transform:scaleX(0.9708);transform-origin:0 0;">Las Palmas</div>
<div class="a" style="left:969.92px;top:193.00px;font-size:17.2px;color:#2c3f5b;transform:scaleX(1.0800);transform-origin:0 0;-webkit-text-stroke:0.6px #2c3f5b;">26,01</div>
<svg class="a" style="left:665.60px;top:190.28px" width="20.00" height="20.00" viewBox="0 0 20 20"><g clip-path="url(#c)"><rect width='20' height='20' fill='#fff'/><rect x='5.4' width='8.4' height='20' fill='#2f86c8'/><rect x='13.8' width='6.2' height='20' fill='#f4c838'/><rect x='6' y='1' width='7.2' height='10' fill='#9fb0cc'/><path d='M7.2 9.6L9.6 6.6L12 9.6Z' fill='#eef'/><circle cx='9.6' cy='5.6' r='1.1' fill='#334'/><rect x='6' y='11' width='7.2' height='2' fill='#6f9ac0'/><rect width="20" height="20" fill="url(#h)"/><circle cx="10" cy="10" r="8.75" fill="url(#g)"/></g><circle cx="10" cy="10" r="8.75" fill="none" stroke="#000" stroke-opacity="0.12" stroke-width="0.5"/></svg>
<div class="ln" style="left:462.8px;top:213.05px;width:561.20px;height:1.5px;background:#d9cfcb"></div>
<div class="ln" style="left:462.8px;top:213.05px;width:319.40px;height:1.5px;background:#c4cadb"></div>
<div class="a" style="left:782.80px;top:219.62px;width:147.52px;height:13.5px;background:linear-gradient(#c9304a,#e42c4d 12%,#e62d4c 85%,#c8304a);box-shadow:0 0 1px 1px rgba(255,255,255,0.55)"></div>
<div class="a" style="left:470.22px;top:219.00px;font-size:15.2px;color:#3d5272;transform:scaleX(0.9795);transform-origin:0 0;">Granada</div>
<div class="a" style="left:716.31px;top:219.00px;font-size:15.2px;color:#3d5272;transform:scaleX(0.9880);transform-origin:0 0;">Granada</div>
<div class="a" style="left:969.92px;top:218.00px;font-size:17.2px;color:#2c3f5b;transform:scaleX(1.0800);transform-origin:0 0;-webkit-text-stroke:0.6px #2c3f5b;">25,79</div>
<svg class="a" style="left:665.60px;top:215.12px" width="20.00" height="20.00" viewBox="0 0 20 20"><g clip-path="url(#c)"><rect width='20' height='20' fill='#fff'/><rect width='20' height='6.9' fill='#3a7a48'/><rect y='13.4' width='20' height='6.6' fill='#1e6a35'/><rect width="20" height="20" fill="url(#h)"/><circle cx="10" cy="10" r="8.75" fill="url(#g)"/></g><circle cx="10" cy="10" r="8.75" fill="none" stroke="#000" stroke-opacity="0.12" stroke-width="0.5"/></svg>
<div class="ln" style="left:462.8px;top:237.89px;width:319.40px;height:1.5px;background:#c6ccdc"></div>
<div class="a" style="left:782.80px;top:244.46px;width:143.69px;height:13.5px;background:linear-gradient(#c9304a,#e42c4d 12%,#e62d4c 85%,#c8304a);box-shadow:0 0 1px 1px rgba(255,255,255,0.55)"></div>
<div class="a" style="left:469.70px;top:243.00px;font-size:15.2px;color:#3d5272;">Dos Hermanas</div>
<div class="a" style="left:730.51px;top:243.00px;font-size:15.2px;color:#3d5272;transform:scaleX(0.9881);transform-origin:0 0;">Sevilla</div>
<div class="a" style="left:969.92px;top:242.00px;font-size:17.2px;color:#2c3f5b;transform:scaleX(1.0800);transform-origin:0 0;-webkit-text-stroke:0.6px #2c3f5b;">25,12</div>
<svg class="a" style="left:665.60px;top:239.96px" width="20.00" height="20.00" viewBox="0 0 20 20"><g clip-path="url(#c)"><rect width='20' height='20' fill='#fff'/><rect width='20' height='6.9' fill='#3a7a48'/><rect y='13.4' width='20' height='6.6' fill='#1e6a35'/><rect width="20" height="20" fill="url(#h)"/><circle cx="10" cy="10" r="8.75" fill="url(#g)"/></g><circle cx="10" cy="10" r="8.75" fill="none" stroke="#000" stroke-opacity="0.12" stroke-width="0.5"/></svg>
<div class="ln" style="left:462.8px;top:262.73px;width:319.40px;height:1.5px;background:#c6ccdc"></div>
<div class="a" style="left:782.80px;top:269.30px;width:142.94px;height:13.5px;background:linear-gradient(#c9304a,#e42c4d 12%,#e62d4c 85%,#c8304a);box-shadow:0 0 1px 1px rgba(255,255,255,0.55)"></div>
<div class="a" style="left:470.18px;top:268.00px;font-size:15.2px;color:#3d5272;transform:scaleX(1.0216);transform-origin:0 0;">Córdoba</div>
<div class="a" style="left:713.97px;top:268.00px;font-size:15.2px;color:#3d5272;transform:scaleX(1.0407);transform-origin:0 0;">Córdoba</div>
<div class="a" style="left:969.92px;top:267.00px;font-size:17.2px;color:#2c3f5b;transform:scaleX(1.0800);transform-origin:0 0;-webkit-text-stroke:0.6px #2c3f5b;">24,99</div>
<svg class="a" style="left:665.60px;top:264.80px" width="20.00" height="20.00" viewBox="0 0 20 20"><g clip-path="url(#c)"><rect width='20' height='20' fill='#fff'/><rect width='20' height='6.9' fill='#3a7a48'/><rect y='13.4' width='20' height='6.6' fill='#1e6a35'/><rect width="20" height="20" fill="url(#h)"/><circle cx="10" cy="10" r="8.75" fill="url(#g)"/></g><circle cx="10" cy="10" r="8.75" fill="none" stroke="#000" stroke-opacity="0.12" stroke-width="0.5"/></svg>
<div class="ln" style="left:462.8px;top:287.57px;width:319.40px;height:1.5px;background:#c6ccdc"></div>
<div class="a" style="left:782.80px;top:294.14px;width:142.37px;height:13.5px;background:linear-gradient(#c9304a,#e42c4d 12%,#e62d4c 85%,#c8304a);box-shadow:0 0 1px 1px rgba(255,255,255,0.55)"></div>
<div class="a" style="left:470.95px;top:293.00px;font-size:15.2px;color:#3d5272;transform:scaleX(1.0060);transform-origin:0 0;">Algeciras</div>
<div class="a" style="left:736.29px;top:293.00px;font-size:15.2px;color:#3d5272;transform:scaleX(1.0080);transform-origin:0 0;">Cádiz</div>
<div class="a" style="left:969.92px;top:292.00px;font-size:17.2px;color:#2c3f5b;transform:scaleX(1.0800);transform-origin:0 0;-webkit-text-stroke:0.6px #2c3f5b;">24,89</div>
<svg class="a" style="left:665.60px;top:289.64px" width="20.00" height="20.00" viewBox="0 0 20 20"><g clip-path="url(#c)"><rect width='20' height='20' fill='#fff'/><rect width='20' height='6.9' fill='#3a7a48'/><rect y='13.4' width='20' height='6.6' fill='#1e6a35'/><rect width="20" height="20" fill="url(#h)"/><circle cx="10" cy="10" r="8.75" fill="url(#g)"/></g><circle cx="10" cy="10" r="8.75" fill="none" stroke="#000" stroke-opacity="0.12" stroke-width="0.5"/></svg>
<div class="ln" style="left:462.8px;top:312.41px;width:319.40px;height:1.5px;background:#c6ccdc"></div>
<div class="a" style="left:782.80px;top:318.98px;width:142.08px;height:13.5px;background:linear-gradient(#c9304a,#e42c4d 12%,#e62d4c 85%,#c8304a);box-shadow:0 0 1px 1px rgba(255,255,255,0.55)"></div>
<div class="a" style="left:470.95px;top:318.00px;font-size:15.2px;color:#3d5272;transform:scaleX(1.0371);transform-origin:0 0;">Arrecife</div>
<div class="a" style="left:698.04px;top:318.00px;font-size:15.2px;color:#3d5272;transform:scaleX(0.9708);transform-origin:0 0;">Las Palmas</div>
<div class="a" style="left:969.51px;top:317.00px;font-size:17.2px;color:#2c3f5b;transform:scaleX(1.0800);transform-origin:0 0;-webkit-text-stroke:0.6px #2c3f5b;">24,84</div>
<svg class="a" style="left:665.60px;top:314.48px" width="20.00" height="20.00" viewBox="0 0 20 20"><g clip-path="url(#c)"><rect width='20' height='20' fill='#fff'/><rect x='5.4' width='8.4' height='20' fill='#2f86c8'/><rect x='13.8' width='6.2' height='20' fill='#f4c838'/><rect x='6' y='1' width='7.2' height='10' fill='#9fb0cc'/><path d='M7.2 9.6L9.6 6.6L12 9.6Z' fill='#eef'/><circle cx='9.6' cy='5.6' r='1.1' fill='#334'/><rect x='6' y='11' width='7.2' height='2' fill='#6f9ac0'/><rect width="20" height="20" fill="url(#h)"/><circle cx="10" cy="10" r="8.75" fill="url(#g)"/></g><circle cx="10" cy="10" r="8.75" fill="none" stroke="#000" stroke-opacity="0.12" stroke-width="0.5"/></svg>
<div class="ln" style="left:462.8px;top:337.25px;width:561.20px;height:1.5px;background:#d9cfcb"></div>
<div class="ln" style="left:462.8px;top:337.25px;width:319.40px;height:1.5px;background:#c4cadb"></div>
<div class="a" style="left:782.80px;top:343.82px;width:142.03px;height:13.5px;background:linear-gradient(#c9304a,#e42c4d 12%,#e62d4c 85%,#c8304a);box-shadow:0 0 1px 1px rgba(255,255,255,0.55)"></div>
<div class="a" style="left:470.20px;top:343.00px;font-size:15.2px;color:#3d5272;transform:scaleX(0.9966);transform-origin:0 0;">Sanlúcar de Barrameda</div>
<div class="a" style="left:736.29px;top:343.00px;font-size:15.2px;color:#3d5272;transform:scaleX(1.0080);transform-origin:0 0;">Cádiz</div>
<div class="a" style="left:969.78px;top:342.00px;font-size:17.2px;color:#2c3f5b;transform:scaleX(1.0800);transform-origin:0 0;-webkit-text-stroke:0.6px #2c3f5b;">24,83</div>
<svg class="a" style="left:665.60px;top:339.32px" width="20.00" height="20.00" viewBox="0 0 20 20"><g clip-path="url(#c)"><rect width='20' height='20' fill='#fff'/><rect width='20' height='6.9' fill='#3a7a48'/><rect y='13.4' width='20' height='6.6' fill='#1e6a35'/><rect width="20" height="20" fill="url(#h)"/><circle cx="10" cy="10" r="8.75" fill="url(#g)"/></g><circle cx="10" cy="10" r="8.75" fill="none" stroke="#000" stroke-opacity="0.12" stroke-width="0.5"/></svg>
<div class="ln" style="left:462.8px;top:362.09px;width:319.40px;height:1.5px;background:#c6ccdc"></div>
<div class="a" style="left:782.80px;top:368.66px;width:140.83px;height:13.5px;background:linear-gradient(#c9304a,#e42c4d 12%,#e62d4c 85%,#c8304a);box-shadow:0 0 1px 1px rgba(255,255,255,0.55)"></div>
<div class="a" style="left:470.55px;top:368.00px;font-size:15.2px;color:#3d5272;transform:scaleX(1.0516);transform-origin:0 0;">Telde</div>
<div class="a" style="left:698.04px;top:368.00px;font-size:15.2px;color:#3d5272;transform:scaleX(0.9708);transform-origin:0 0;">Las Palmas</div>
<div class="a" style="left:969.92px;top:367.00px;font-size:17.2px;color:#2c3f5b;transform:scaleX(1.0800);transform-origin:0 0;-webkit-text-stroke:0.6px #2c3f5b;">24,62</div>
<svg class="a" style="left:665.60px;top:364.16px" width="20.00" height="20.00" viewBox="0 0 20 20"><g clip-path="url(#c)"><rect width='20' height='20' fill='#fff'/><rect x='5.4' width='8.4' height='20' fill='#2f86c8'/><rect x='13.8' width='6.2' height='20' fill='#f4c838'/><rect x='6' y='1' width='7.2' height='10' fill='#9fb0cc'/><path d='M7.2 9.6L9.6 6.6L12 9.6Z' fill='#eef'/><circle cx='9.6' cy='5.6' r='1.1' fill='#334'/><rect x='6' y='11' width='7.2' height='2' fill='#6f9ac0'/><rect width="20" height="20" fill="url(#h)"/><circle cx="10" cy="10" r="8.75" fill="url(#g)"/></g><circle cx="10" cy="10" r="8.75" fill="none" stroke="#000" stroke-opacity="0.12" stroke-width="0.5"/></svg>
<div class="ln" style="left:462.8px;top:386.93px;width:319.40px;height:1.5px;background:#c6ccdc"></div>
<div class="a" style="left:782.80px;top:393.50px;width:140.20px;height:13.5px;background:linear-gradient(#c9304a,#e42c4d 12%,#e62d4c 85%,#c8304a);box-shadow:0 0 1px 1px rgba(255,255,255,0.55)"></div>
<div class="a" style="left:470.20px;top:393.00px;font-size:15.2px;color:#3d5272;transform:scaleX(0.9978);transform-origin:0 0;">Chiclana de la Frontera</div>
<div class="a" style="left:736.29px;top:393.00px;font-size:15.2px;color:#3d5272;transform:scaleX(1.0080);transform-origin:0 0;">Cádiz</div>
<div class="a" style="left:969.92px;top:392.00px;font-size:17.2px;color:#2c3f5b;transform:scaleX(1.0800);transform-origin:0 0;-webkit-text-stroke:0.6px #2c3f5b;">24,51</div>
<svg class="a" style="left:665.60px;top:389.00px" width="20.00" height="20.00" viewBox="0 0 20 20"><g clip-path="url(#c)"><rect width='20' height='20' fill='#fff'/><rect width='20' height='6.9' fill='#3a7a48'/><rect y='13.4' width='20' height='6.6' fill='#1e6a35'/><rect width="20" height="20" fill="url(#h)"/><circle cx="10" cy="10" r="8.75" fill="url(#g)"/></g><circle cx="10" cy="10" r="8.75" fill="none" stroke="#000" stroke-opacity="0.12" stroke-width="0.5"/></svg>
<div class="ln" style="left:462.8px;top:411.77px;width:319.40px;height:1.5px;background:#c6ccdc"></div>
<div class="a" style="left:782.80px;top:418.34px;width:139.11px;height:13.5px;background:linear-gradient(#c9304a,#e42c4d 12%,#e62d4c 85%,#c8304a);box-shadow:0 0 1px 1px rgba(255,255,255,0.55)"></div>
<div class="a" style="left:470.19px;top:418.00px;font-size:15.2px;color:#3d5272;transform:scaleX(1.0081);transform-origin:0 0;">Santa Cruz de Tenerife</div>
<div class="a" style="left:689.01px;top:418.00px;font-size:15.2px;color:#3d5272;transform:scaleX(0.9838);transform-origin:0 0;">S.C. Tenerife</div>
<div class="a" style="left:969.92px;top:417.00px;font-size:17.2px;color:#2c3f5b;transform:scaleX(1.0800);transform-origin:0 0;-webkit-text-stroke:0.6px #2c3f5b;">24,32</div>
<svg class="a" style="left:665.60px;top:413.84px" width="20.00" height="20.00" viewBox="0 0 20 20"><g clip-path="url(#c)"><rect width='20' height='20' fill='#fff'/><rect x='5.4' width='8.4' height='20' fill='#2f86c8'/><rect x='13.8' width='6.2' height='20' fill='#f4c838'/><rect x='6' y='1' width='7.2' height='10' fill='#9fb0cc'/><path d='M7.2 9.6L9.6 6.6L12 9.6Z' fill='#eef'/><circle cx='9.6' cy='5.6' r='1.1' fill='#334'/><rect x='6' y='11' width='7.2' height='2' fill='#6f9ac0'/><rect width="20" height="20" fill="url(#h)"/><circle cx="10" cy="10" r="8.75" fill="url(#g)"/></g><circle cx="10" cy="10" r="8.75" fill="none" stroke="#000" stroke-opacity="0.12" stroke-width="0.5"/></svg>
<div class="ln" style="left:462.8px;top:436.61px;width:319.40px;height:1.5px;background:#c6ccdc"></div>
<div class="a" style="left:782.80px;top:443.18px;width:139.00px;height:13.5px;background:linear-gradient(#c9304a,#e42c4d 12%,#e62d4c 85%,#c8304a);box-shadow:0 0 1px 1px rgba(255,255,255,0.55)"></div>
<div class="a" style="left:470.59px;top:442.00px;font-size:15.2px;color:#3d5272;transform:scaleX(0.9695);transform-origin:0 0;">Talavera de la Reina</div>
<div class="a" style="left:727.34px;top:442.00px;font-size:15.2px;color:#3d5272;transform:scaleX(1.0735);transform-origin:0 0;">Toledo</div>
<div class="a" style="left:969.78px;top:441.00px;font-size:17.2px;color:#2c3f5b;transform:scaleX(1.0800);transform-origin:0 0;-webkit-text-stroke:0.6px #2c3f5b;">24,30</div>
<svg class="a" style="left:665.60px;top:438.68px" width="20.00" height="20.00" viewBox="0 0 20 20"><g clip-path="url(#c)"><rect width='20' height='20' fill='#fff'/><rect width='10.3' height='20' fill='#8a2a14'/><rect x='3.6' y='4.5' width='6' height='12' fill='#eeaa38'/><rect x='4.8' y='2.8' width='3.6' height='2.2' fill='#eeaa38'/><rect x='5.6' y='9' width='2' height='4.5' fill='#9a5a18'/><rect width="20" height="20" fill="url(#h)"/><circle cx="10" cy="10" r="8.75" fill="url(#g)"/></g><circle cx="10" cy="10" r="8.75" fill="none" stroke="#000" stroke-opacity="0.12" stroke-width="0.5"/></svg>
<div class="ln" style="left:462.8px;top:461.45px;width:561.20px;height:1.5px;background:#d9cfcb"></div>
<div class="ln" style="left:462.8px;top:461.45px;width:319.40px;height:1.5px;background:#c4cadb"></div>
<div class="a" style="left:782.80px;top:468.02px;width:139.00px;height:13.5px;background:linear-gradient(#c9304a,#e42c4d 12%,#e62d4c 85%,#c8304a);box-shadow:0 0 1px 1px rgba(255,255,255,0.55)"></div>
<div class="a" style="left:470.55px;top:467.00px;font-size:15.2px;color:#3d5272;transform:scaleX(1.0570);transform-origin:0 0;">Torremolinos</div>
<div class="a" style="left:723.98px;top:467.00px;font-size:15.2px;color:#3d5272;transform:scaleX(1.0174);transform-origin:0 0;">Málaga</div>
<div class="a" style="left:969.78px;top:466.00px;font-size:17.2px;color:#2c3f5b;transform:scaleX(1.0800);transform-origin:0 0;-webkit-text-stroke:0.6px #2c3f5b;">24,30</div>
<svg class="a" style="left:665.60px;top:463.52px" width="20.00" height="20.00" viewBox="0 0 20 20"><g clip-path="url(#c)"><rect width='20' height='20' fill='#fff'/><rect width='20' height='6.9' fill='#3a7a48'/><rect y='13.4' width='20' height='6.6' fill='#1e6a35'/><rect width="20" height="20" fill="url(#h)"/><circle cx="10" cy="10" r="8.75" fill="url(#g)"/></g><circle cx="10" cy="10" r="8.75" fill="none" stroke="#000" stroke-opacity="0.12" stroke-width="0.5"/></svg>
<div class="ln" style="left:462.8px;top:486.29px;width:319.40px;height:1.5px;background:#c6ccdc"></div>
<div class="a" style="left:782.80px;top:492.86px;width:136.59px;height:13.5px;background:linear-gradient(#c9304a,#e42c4d 12%,#e62d4c 85%,#c8304a);box-shadow:0 0 1px 1px rgba(255,255,255,0.55)"></div>
<div class="a" style="left:470.20px;top:492.00px;font-size:15.2px;color:#3d5272;transform:scaleX(0.9956);transform-origin:0 0;">Ceuta</div>
<div class="a" style="left:733.38px;top:492.00px;font-size:15.2px;color:#3d5272;transform:scaleX(1.0207);transform-origin:0 0;">Ceuta</div>
<div class="a" style="left:969.78px;top:491.00px;font-size:17.2px;color:#2c3f5b;transform:scaleX(1.0800);transform-origin:0 0;-webkit-text-stroke:0.6px #2c3f5b;">23,88</div>
<svg class="a" style="left:665.60px;top:488.36px" width="20.00" height="20.00" viewBox="0 0 20 20"><g clip-path="url(#c)"><rect width='20' height='20' fill='#fff'/><path d='M10 10L7.57 -3.79L18.03 -1.47Z M10 10L23.79 7.57L21.47 18.03Z M10 10L12.43 23.79L1.97 21.47Z M10 10L-3.79 12.43L-1.47 1.97Z' fill='#151515'/><circle cx='10' cy='9.5' r='3.2' fill='#d6b27a'/><rect width="20" height="20" fill="url(#h)"/><circle cx="10" cy="10" r="8.75" fill="url(#g)"/></g><circle cx="10" cy="10" r="8.75" fill="none" stroke="#000" stroke-opacity="0.12" stroke-width="0.5"/></svg>
<div class="ln" style="left:462.8px;top:511.13px;width:319.40px;height:1.5px;background:#c6ccdc"></div>
<div class="a" style="left:782.80px;top:517.70px;width:135.39px;height:13.5px;background:linear-gradient(#c9304a,#e42c4d 12%,#e62d4c 85%,#c8304a);box-shadow:0 0 1px 1px rgba(255,255,255,0.55)"></div>
<div class="a" style="left:470.20px;top:517.00px;font-size:15.2px;color:#3d5272;">San Fernando</div>
<div class="a" style="left:736.29px;top:517.00px;font-size:15.2px;color:#3d5272;transform:scaleX(1.0080);transform-origin:0 0;">Cádiz</div>
<div class="a" style="left:969.92px;top:516.00px;font-size:17.2px;color:#2c3f5b;transform:scaleX(1.0800);transform-origin:0 0;-webkit-text-stroke:0.6px #2c3f5b;">23,67</div>
<svg class="a" style="left:665.60px;top:513.20px" width="20.00" height="20.00" viewBox="0 0 20 20"><g clip-path="url(#c)"><rect width='20' height='20' fill='#fff'/><rect width='20' height='6.9' fill='#3a7a48'/><rect y='13.4' width='20' height='6.6' fill='#1e6a35'/><rect width="20" height="20" fill="url(#h)"/><circle cx="10" cy="10" r="8.75" fill="url(#g)"/></g><circle cx="10" cy="10" r="8.75" fill="none" stroke="#000" stroke-opacity="0.12" stroke-width="0.5"/></svg>
<div class="ln" style="left:462.8px;top:535.97px;width:319.40px;height:1.5px;background:#c6ccdc"></div>
<div class="a" style="left:782.80px;top:542.54px;width:135.22px;height:13.5px;background:linear-gradient(#c9304a,#e42c4d 12%,#e62d4c 85%,#c8304a);box-shadow:0 0 1px 1px rgba(255,255,255,0.55)"></div>
<div class="a" style="left:469.71px;top:542.00px;font-size:15.2px;color:#3d5272;transform:scaleX(0.9915);transform-origin:0 0;">Elda</div>
<div class="a" style="left:719.05px;top:542.00px;font-size:15.2px;color:#3d5272;transform:scaleX(1.0406);transform-origin:0 0;">Alicante</div>
<div class="a" style="left:969.51px;top:541.00px;font-size:17.2px;color:#2c3f5b;transform:scaleX(1.0800);transform-origin:0 0;-webkit-text-stroke:0.6px #2c3f5b;">23,64</div>
<svg class="a" style="left:665.60px;top:538.04px" width="20.00" height="20.00" viewBox="0 0 20 20"><g clip-path="url(#c)"><rect width='20' height='20' fill='#f7b531'/><rect x='0' y='4.60' width='20' height='2.2' fill='#d8401a'/><rect x='0' y='8.60' width='20' height='2.2' fill='#d8401a'/><rect x='0' y='12.60' width='20' height='2.2' fill='#d8401a'/><rect x='0' y='16.60' width='20' height='2.2' fill='#d8401a'/><rect x='0' y='0' width='5.8' height='20' fill='#e8c53a'/><rect x='5.4' y='0' width='0.8' height='20' fill='#c89a30'/><rect x='6' y='0' width='14' height='3' fill='#f5d080'/><rect width="20" height="20" fill="url(#h)"/><circle cx="10" cy="10" r="8.75" fill="url(#g)"/></g><circle cx="10" cy="10" r="8.75" fill="none" stroke="#000" stroke-opacity="0.12" stroke-width="0.5"/></svg>
<div class="ln" style="left:462.8px;top:560.81px;width:319.40px;height:1.5px;background:#c6ccdc"></div>
<div class="a" style="left:782.80px;top:567.38px;width:134.99px;height:13.5px;background:linear-gradient(#c9304a,#e42c4d 12%,#e62d4c 85%,#c8304a);box-shadow:0 0 1px 1px rgba(255,255,255,0.55)"></div>
<div class="a" style="left:469.75px;top:567.00px;font-size:15.2px;color:#3d5272;transform:scaleX(0.9617);transform-origin:0 0;">Las Palmas de Gran Canaria</div>
<div class="a" style="left:698.04px;top:567.00px;font-size:15.2px;color:#3d5272;transform:scaleX(0.9708);transform-origin:0 0;">Las Palmas</div>
<div class="a" style="left:969.78px;top:566.00px;font-size:17.2px;color:#2c3f5b;transform:scaleX(1.0800);transform-origin:0 0;-webkit-text-stroke:0.6px #2c3f5b;">23,60</div>
<svg class="a" style="left:665.60px;top:562.88px" width="20.00" height="20.00" viewBox="0 0 20 20"><g clip-path="url(#c)"><rect width='20' height='20' fill='#fff'/><rect x='5.4' width='8.4' height='20' fill='#2f86c8'/><rect x='13.8' width='6.2' height='20' fill='#f4c838'/><rect x='6' y='1' width='7.2' height='10' fill='#9fb0cc'/><path d='M7.2 9.6L9.6 6.6L12 9.6Z' fill='#eef'/><circle cx='9.6' cy='5.6' r='1.1' fill='#334'/><rect x='6' y='11' width='7.2' height='2' fill='#6f9ac0'/><rect width="20" height="20" fill="url(#h)"/><circle cx="10" cy="10" r="8.75" fill="url(#g)"/></g><circle cx="10" cy="10" r="8.75" fill="none" stroke="#000" stroke-opacity="0.12" stroke-width="0.5"/></svg>
<div class="ln" style="left:462.8px;top:89.10px;width:561.20px;height:1.6px;background:#dbd0cc"></div>
<div class="ln" style="left:462.8px;top:89.10px;width:319.40px;height:1.6px;background:#c9cedb"></div>
<div class="ln" style="left:462.8px;top:585.90px;width:319.40px;background:#c2c6cf"></div>
<div class="ln" style="left:781.90px;top:598px;width:144.00px;background:#bdbac0"></div>
<div class="a" style="left:778.98px;top:601.60px;font-size:12.2px;color:#8c9099;">0</div>
<div class="a" style="left:810.50px;top:586px;width:1px;height:12px;background:#bdbac0"></div>
<div class="a" style="left:807.64px;top:601.60px;font-size:12.2px;color:#8c9099;">5</div>
<div class="a" style="left:839.10px;top:586px;width:1px;height:12px;background:#bdbac0"></div>
<div class="a" style="left:832.68px;top:601.60px;font-size:12.2px;color:#8c9099;">10</div>
<div class="a" style="left:867.70px;top:586px;width:1px;height:12px;background:#bdbac0"></div>
<div class="a" style="left:861.34px;top:601.60px;font-size:12.2px;color:#8c9099;">15</div>
<div class="a" style="left:896.30px;top:586px;width:1px;height:12px;background:#bdbac0"></div>
<div class="a" style="left:890.00px;top:601.60px;font-size:12.2px;color:#8c9099;">20</div>
<div class="a" style="left:924.90px;top:586px;width:1px;height:12px;background:#bdbac0"></div>
<div class="a" style="left:918.66px;top:601.60px;font-size:12.2px;color:#8c9099;">25</div>
<div class="a" style="left:9.77px;top:625.30px;font-size:12.6px;color:#465366;transform:scaleX(0.9095);transform-origin:0 0;-webkit-text-stroke:0.3px #465366;">Fuente: INE</div>
<div class="a" style="left:846.49px;top:624.60px;font-size:12.0px;color:#55667e;transform:scaleX(0.9084);transform-origin:0 0;-webkit-text-stroke:0.25px #55667e;">BELÉN TRINCADO / CINCO DÍAS</div>
<svg width="0" height="0" style="position:absolute"><defs>
<clipPath id="c"><circle cx="10" cy="10" r="8.75"/></clipPath>
<radialGradient id="g" cx="0.5" cy="0.5" r="0.5"><stop offset="0.7" stop-color="#000" stop-opacity="0"/><stop offset="1" stop-color="#000" stop-opacity="0.28"/></radialGradient>
<linearGradient id="h" x1="0" y1="0" x2="0" y2="1"><stop offset="0" stop-color="#fff" stop-opacity="0.6"/><stop offset="0.4" stop-color="#fff" stop-opacity="0.25"/><stop offset="0.55" stop-color="#fff" stop-opacity="0"/><stop offset="1" stop-color="#fff" stop-opacity="0"/></linearGradient>
</defs></svg>
</body></html>
